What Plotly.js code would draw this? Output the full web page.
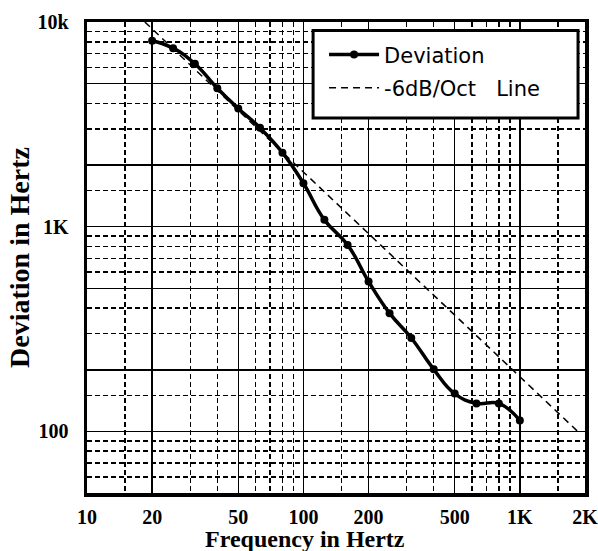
<!DOCTYPE html>
<html>
<head>
<meta charset="utf-8">
<script src="https://cdn.plot.ly/plotly-3.0.1.min.js"></script>
<style>html,body{margin:0;padding:0;background:#fff;}#chart{width:598px;height:551px;}</style>
</head>
<body>
<div id="chart"></div>
<script>
// Measured deviation (1/3-octave frequencies)
const freq = [20, 25, 31.5, 40, 50, 63, 80, 100, 125, 160, 200, 250, 315, 400, 500, 630, 800, 1000];
const deviation = [8100, 7450, 6250, 4750, 3780, 3040, 2300, 1630, 1080, 815, 540, 378, 286, 201, 153, 137, 137, 113];
// -6 dB/octave reference line endpoints
const refFreq = [18.5, 1850];
const refDev = [10000, 100];

const xMajor = [10, 20, 50, 100, 200, 500, 1000, 2000];
const xMajorText = ['10', '20', '50', '100', '200', '500', '1K', '2K'];
const xMinor = [15, 30, 40, 60, 70, 80, 90, 150, 300, 400, 600, 700, 800, 900, 1500];
const yMajor = [100, 200, 500, 1000, 2000, 5000, 10000];
const yMajorText = ['100', '', '', '1K', '', '', '10k'];
const yMinor = [60, 70, 80, 90, 150, 300, 400, 600, 700, 800, 900, 1500, 3000, 4000, 6000, 7000, 8000, 9000];

const tickFont = {family: 'Liberation Serif', size: 20, color: '#000', weight: 'bold'};

const traces = [
  {
    x: freq, y: deviation, name: 'Deviation', type: 'scatter', mode: 'lines+markers',
    line: {color: '#000', width: 3.5, shape: 'spline', smoothing: 1.3},
    marker: {color: '#000', size: 8, symbol: 'circle'},
    legendgroup: 'a'
  },
  {
    x: refFreq, y: refDev, name: '-6dB/Oct\u00a0\u00a0\u00a0Line', type: 'scatter', mode: 'lines',
    line: {color: '#000', width: 1.5, dash: '7px,5px'},
    legendgroup: 'b'
  }
];

const layout = {
  width: 598, height: 551,
  margin: {l: 87, r: 13, t: 22, b: 58},
  paper_bgcolor: '#fff', plot_bgcolor: '#fff',
  showlegend: true,
  legend: {
    x: 0.476, y: 0.974, xanchor: 'left', yanchor: 'top',
    bgcolor: 'rgba(0,0,0,0)', borderwidth: 0,
    font: {family: 'DejaVu Sans', size: 21, color: '#000'},
    itemwidth: 50, traceorder: 'grouped', tracegroupgap: 3
  },
  shapes: [
    {type: 'rect', xref: 'paper', yref: 'paper', x0: 0.454, x1: 0.986, y0: 0.796, y1: 0.982,
     fillcolor: '#fff', line: {color: '#000', width: 3}, layer: 'above'}
  ],
  xaxis: {
    type: 'log', range: [1, 3.30104],
    tickmode: 'array', tickvals: xMajor, ticktext: xMajorText,
    ticks: '', tickfont: tickFont, ticklabelstandoff: 3, ticklabeloverflow: 'allow',
    showgrid: true, gridcolor: '#000', gridwidth: 1.5,
    minor: {tickmode: 'array', tickvals: xMinor, showgrid: true, gridcolor: '#000', gridwidth: 1.5, griddash: '5px,3px', ticks: ''},
    showline: true, linecolor: '#000', linewidth: 3.5, mirror: true,
    zeroline: false, fixedrange: true
  },
  yaxis: {
    type: 'log', range: [Math.log10(50), 4],
    tickmode: 'array', tickvals: yMajor, ticktext: yMajorText,
    ticks: '', tickfont: tickFont, ticklabelstandoff: 11,
    showgrid: true, gridcolor: '#000', gridwidth: 1.5,
    minor: {tickmode: 'array', tickvals: yMinor, showgrid: true, gridcolor: '#000', gridwidth: 1.5, griddash: '5px,3px', ticks: ''},
    showline: true, linecolor: '#000', linewidth: 3.5, mirror: true,
    zeroline: false, fixedrange: true,
    title: {text: 'Deviation in Hertz', font: {family: 'Liberation Serif', size: 28, color: '#000', weight: 'bold'}, standoff: 0}
  },
  annotations: [
    {text: 'Frequency in Hertz', xref: 'paper', yref: 'paper', x: 0.438, y: 0, yshift: -31,
     xanchor: 'center', yanchor: 'top', showarrow: false,
     font: {family: 'Liberation Serif', size: 24, color: '#000', weight: 'bold'}}
  ]
};

Plotly.newPlot('chart', traces, layout, {displayModeBar: false, staticPlot: true});
</script>
</body>
</html>
